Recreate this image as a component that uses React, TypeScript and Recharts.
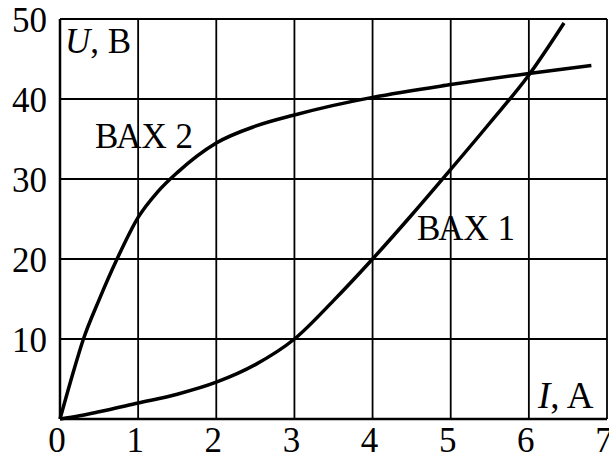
import React from "react";
import { LineChart, Line, XAxis, YAxis, CartesianGrid, Customized } from "recharts";

// Current I (A) and voltage U (V) for the two current-voltage characteristics
const vax1Current = [0, 0.25, 0.5, 1, 1.5, 2, 2.5, 3, 3.5, 4, 4.5, 5, 5.5, 6, 6.45];
const vax1Voltage = [0, 0.4, 0.9, 2.0, 3.1, 4.6, 6.8, 10, 14.8, 20, 25.5, 31.2, 37, 43, 49.5];

const vax2Current = [0, 0.15, 0.3, 0.5, 0.73, 1, 1.25, 1.5, 2, 2.5, 3, 3.5, 4, 5, 6, 6.8];
const vax2Voltage = [0, 5.2, 10, 14.9, 20, 25.2, 28.4, 30.8, 34.5, 36.6, 38.0, 39.2, 40.2, 41.8, 43.2, 44.2];

const xTicks = [0, 1, 2, 3, 4, 5, 6, 7];
const yTicks = [0, 10, 20, 30, 40, 50];

const vax1 = vax1Current.map((i, k) => ({ i, u: vax1Voltage[k] }));
const vax2 = vax2Current.map((i, k) => ({ i, u: vax2Voltage[k] }));

const FONT = "'Liberation Serif', 'Times New Roman', serif";
const FS = 35;

const XTick = (props: any) => {
  const { x, y, payload } = props;
  return (
    <text x={x - 3} y={y + 25} textAnchor="middle" fontFamily={FONT} fontSize={FS} fill="#000">
      {payload.value}
    </text>
  );
};

const YTick = (props: any) => {
  const { x, y, payload } = props;
  if (payload.value === 0) return null;
  return (
    <text x={x - 5} y={y + 13} textAnchor="end" fontFamily={FONT} fontSize={FS} fill="#000">
      {payload.value}
    </text>
  );
};

// Axis captions and curve names inside the plot
const Captions = () => (
  <g fontFamily={FONT} fontSize={FS} fill="#000">
    <text x={65} y={53}>
      <tspan fontStyle="italic">U</tspan>, B
    </text>
    <text x={95} y={148}>ВАХ 2</text>
    <text x={417} y={240}>ВАХ 1</text>
    <text x={538} y={408} fontSize={37}>
      <tspan fontStyle="italic">I</tspan>, A
    </text>
  </g>
);

export default function App() {
  return (
    <div style={{ position: "absolute", left: 0, top: 0, background: "#fff" }}>
      <LineChart width={609} height={455} margin={{ top: 19, right: 2, bottom: 0, left: 0 }}>
        <CartesianGrid
          stroke="#000"
          strokeWidth={1.8}
          horizontalValues={yTicks}
          verticalValues={xTicks}
        />
        <XAxis
          type="number"
          dataKey="i"
          domain={[0, 7]}
          ticks={xTicks}
          height={36}
          tickLine={false}
          axisLine={{ stroke: "#000", strokeWidth: 2.5 }}
          tick={<XTick />}
          interval={0}
        />
        <YAxis
          type="number"
          dataKey="u"
          domain={[0, 50]}
          ticks={yTicks}
          width={60}
          tickLine={false}
          axisLine={{ stroke: "#000", strokeWidth: 2.5 }}
          tick={<YTick />}
          interval={0}
        />
        <Line
          data={vax1}
          dataKey="u"
          type="monotone"
          stroke="#000"
          strokeWidth={3.5}
          dot={false}
          isAnimationActive={false}
        />
        <Line
          data={vax2}
          dataKey="u"
          type="monotone"
          stroke="#000"
          strokeWidth={3.5}
          dot={false}
          isAnimationActive={false}
        />
        <Customized component={Captions} />
      </LineChart>
    </div>
  );
}
